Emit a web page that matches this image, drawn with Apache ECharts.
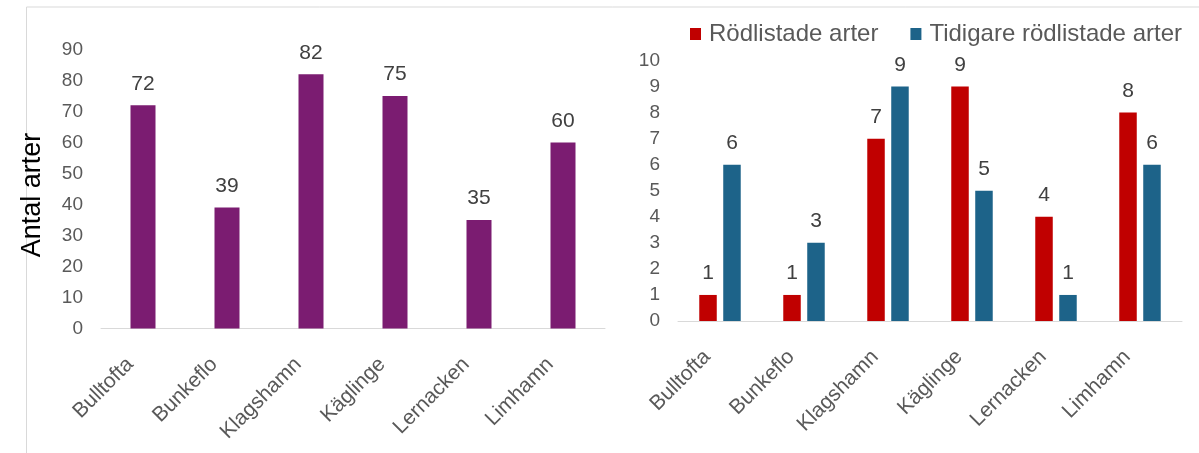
<!DOCTYPE html>
<html>
<head>
<meta charset="utf-8">
<script src="https://cdn.jsdelivr.net/npm/echarts@6/dist/echarts.min.js"></script>
<style>
html,body{margin:0;padding:0;background:#fff;}
#c{width:1199px;height:453px;}
</style>
</head>
<body>
<div id="c"></div>
<script>
const categories = ['Bulltofta','Bunkeflo','Klagshamn','Käglinge','Lernacken','Limhamn'];
const totalSpecies = [72, 39, 82, 75, 35, 60];
const redListed = [1, 1, 7, 9, 4, 8];
const formerlyRedListed = [6, 3, 9, 5, 1, 6];
const leftTicks = {min: 0, max: 90, interval: 10};
const rightTicks = {min: 0, max: 10, interval: 1};
const seriesNames = ['Rödlistade arter', 'Tidigare rödlistade arter'];
const yAxisTitle = 'Antal arter';

const FONT = '"Liberation Sans", Arial, sans-serif';
const chart = echarts.init(document.getElementById('c'));

const xAxisBase = {
  type: 'category',
  data: categories,
  axisLine: {lineStyle: {color: '#D9D9D9', width: 1}},
  axisTick: {show: false},
  axisLabel: {rotate: 45, color: '#595959', fontSize: 21, fontFamily: FONT, margin: 20, interval: 0, padding: [0, 18, 0, 0]}
};
const yAxisBase = {
  type: 'value',
  splitLine: {show: false},
  axisLine: {show: false},
  axisTick: {show: false},
  axisLabel: {color: '#595959', fontSize: 19, fontFamily: FONT}
};
const labelBase = {show: true, position: 'top', color: '#404040', fontSize: 21, fontFamily: FONT, distance: 11};

chart.setOption({
  animation: false,
  textStyle: {fontFamily: FONT},
  legend: {
    data: seriesNames,
    left: 685, top: 17,
    itemWidth: 11, itemHeight: 12, itemGap: 32,
    icon: 'rect',
    textStyle: {color: '#595959', fontSize: 24, fontFamily: FONT, padding: [0, 0, 0, 3]}
  },
  grid: [
    {left: 101, top: 49.5, width: 504, height: 279},
    {left: 678, top: 60.5, width: 504, height: 260.5}
  ],
  xAxis: [
    Object.assign({gridIndex: 0}, xAxisBase),
    Object.assign({gridIndex: 1}, xAxisBase)
  ],
  yAxis: [
    Object.assign({gridIndex: 0, name: yAxisTitle, nameLocation: 'middle', nameGap: 55,
      nameTextStyle: {color: '#000', fontSize: 27, fontFamily: FONT, padding: [0, 12, 0, 0]}}, leftTicks, yAxisBase,
      {axisLabel: Object.assign({}, yAxisBase.axisLabel, {margin: 18})}),
    Object.assign({gridIndex: 1}, rightTicks, yAxisBase,
      {axisLabel: Object.assign({}, yAxisBase.axisLabel, {margin: 18})})
  ],
  series: [
    {type: 'bar', xAxisIndex: 0, yAxisIndex: 0, data: totalSpecies, barWidth: 25,
      itemStyle: {color: '#7B1C71'}, label: labelBase},
    {type: 'bar', name: seriesNames[0], xAxisIndex: 1, yAxisIndex: 1, data: redListed, barWidth: 17.5, barGap: '37%',
      itemStyle: {color: '#C00000'}, label: labelBase},
    {type: 'bar', name: seriesNames[1], xAxisIndex: 1, yAxisIndex: 1, data: formerlyRedListed, barWidth: 17.5, barGap: '37%',
      itemStyle: {color: '#1D6389'}, label: labelBase}
  ],
  graphic: [
    {type: 'line', shape: {x1: 26.5, y1: 7, x2: 26.5, y2: 453}, style: {stroke: '#D9D9D9', lineWidth: 1}, silent: true},
    {type: 'line', shape: {x1: 26.5, y1: 7, x2: 1199, y2: 7}, style: {stroke: '#D9D9D9', lineWidth: 1}, silent: true}
  ]
});
</script>
</body>
</html>
